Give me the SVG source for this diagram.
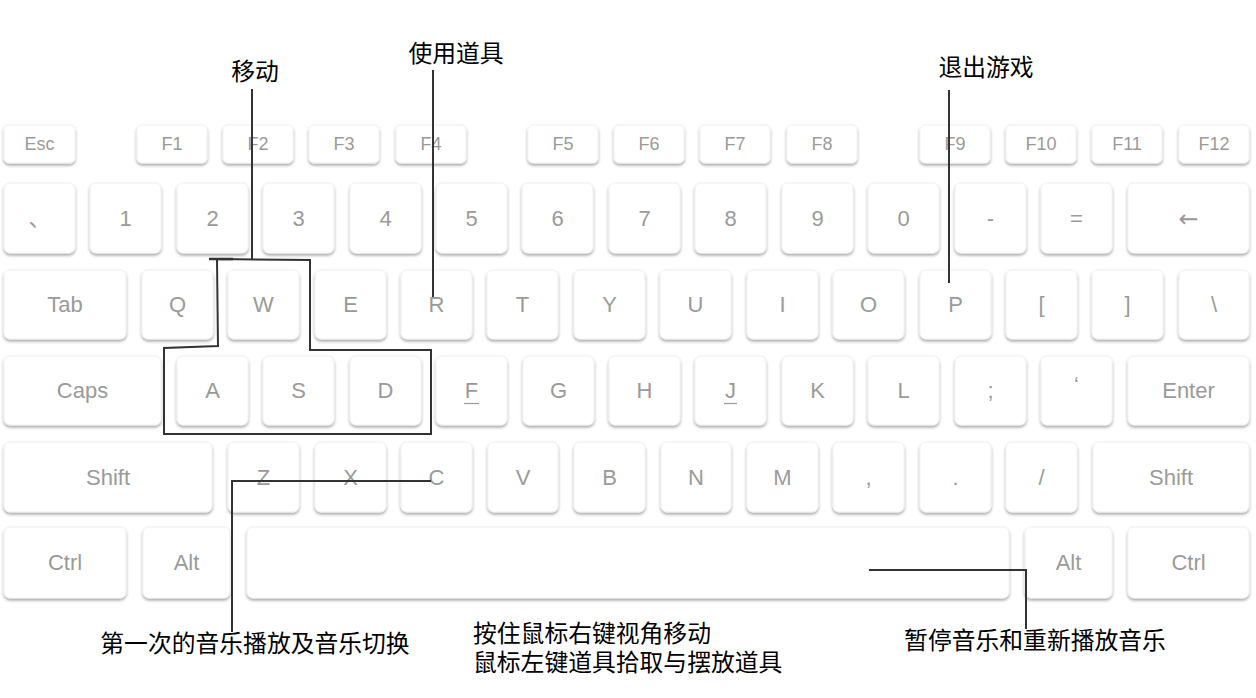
<svg xmlns="http://www.w3.org/2000/svg" width="1256" height="698" viewBox="0 0 1256 698">
<defs>
<filter id="sh" x="-10%" y="-20%" width="120%" height="150%">
<feDropShadow dx="0" dy="2" stdDeviation="1.4" flood-color="#000" flood-opacity="0.35"/>
</filter>
</defs>
<style>
.k{fill:#fff;stroke:#f0f0f0;stroke-width:1;filter:url(#sh)}
.t{font-family:"Liberation Sans",Arial,"Noto Sans CJK SC",sans-serif;font-size:22px;fill:#9a9a9a;text-anchor:middle}
.f{font-size:18px}
.c{stroke:#333;stroke-width:2;fill:none}
.a{font-family:"Liberation Sans","Noto Sans CJK SC","Noto Sans CJK TC",sans-serif;font-size:23.8px;fill:#000}
</style>
<rect width="1256" height="698" fill="#fff"/>
<g id="keys">
<g id="row-f">
<rect class="k" x="4" y="125" width="71" height="38" rx="5"/><text class="t f" x="39.5" y="150">Esc</text>
<rect class="k" x="137" y="125" width="70" height="38" rx="5"/><text class="t f" x="172" y="150">F1</text>
<rect class="k" x="223" y="125" width="70" height="38" rx="5"/><text class="t f" x="258" y="150">F2</text>
<rect class="k" x="309" y="125" width="70" height="38" rx="5"/><text class="t f" x="344" y="150">F3</text>
<rect class="k" x="396" y="125" width="70" height="38" rx="5"/><text class="t f" x="431" y="150">F4</text>
<rect class="k" x="528" y="125" width="70" height="38" rx="5"/><text class="t f" x="563" y="150">F5</text>
<rect class="k" x="614" y="125" width="70" height="38" rx="5"/><text class="t f" x="649" y="150">F6</text>
<rect class="k" x="700" y="125" width="70" height="38" rx="5"/><text class="t f" x="735" y="150">F7</text>
<rect class="k" x="787" y="125" width="70" height="38" rx="5"/><text class="t f" x="822" y="150">F8</text>
<rect class="k" x="920" y="125" width="70" height="38" rx="5"/><text class="t f" x="955" y="150">F9</text>
<rect class="k" x="1006" y="125" width="70" height="38" rx="5"/><text class="t f" x="1041" y="150">F10</text>
<rect class="k" x="1092" y="125" width="70" height="38" rx="5"/><text class="t f" x="1127" y="150">F11</text>
<rect class="k" x="1179" y="125" width="70" height="38" rx="5"/><text class="t f" x="1214" y="150">F12</text>
</g>
<g id="row-num">
<rect class="k" x="4" y="183" width="71" height="70" rx="6"/><text class="t" x="39.5" y="226">、</text>
<rect class="k" x="90" y="183" width="71" height="70" rx="6"/><text class="t" x="125.5" y="226">1</text>
<rect class="k" x="177" y="183" width="71" height="70" rx="6"/><text class="t" x="212.5" y="226">2</text>
<rect class="k" x="263" y="183" width="71" height="70" rx="6"/><text class="t" x="298.5" y="226">3</text>
<rect class="k" x="350" y="183" width="71" height="70" rx="6"/><text class="t" x="385.5" y="226">4</text>
<rect class="k" x="436" y="183" width="71" height="70" rx="6"/><text class="t" x="471.5" y="226">5</text>
<rect class="k" x="522" y="183" width="71" height="70" rx="6"/><text class="t" x="557.5" y="226">6</text>
<rect class="k" x="609" y="183" width="71" height="70" rx="6"/><text class="t" x="644.5" y="226">7</text>
<rect class="k" x="695" y="183" width="71" height="70" rx="6"/><text class="t" x="730.5" y="226">8</text>
<rect class="k" x="782" y="183" width="71" height="70" rx="6"/><text class="t" x="817.5" y="226">9</text>
<rect class="k" x="868" y="183" width="71" height="70" rx="6"/><text class="t" x="903.5" y="226">0</text>
<rect class="k" x="955" y="183" width="71" height="70" rx="6"/><text class="t" x="990.5" y="226">-</text>
<rect class="k" x="1041" y="183" width="71" height="70" rx="6"/><text class="t" x="1076.5" y="226">=</text>
<rect class="k" x="1128" y="183" width="121" height="70" rx="6"/><text class="t" x="1188.5" y="227" style="font-family:'DejaVu Sans',sans-serif;font-size:24px">←</text>
</g>
<g id="row-q">
<rect class="k" x="4" y="270" width="122" height="69" rx="6"/><text class="t" x="65" y="312">Tab</text>
<rect class="k" x="142" y="270" width="71" height="69" rx="6"/><text class="t" x="177.5" y="312">Q</text>
<rect class="k" x="228" y="270" width="71" height="69" rx="6"/><text class="t" x="263.5" y="312">W</text>
<rect class="k" x="315" y="270" width="71" height="69" rx="6"/><text class="t" x="350.5" y="312">E</text>
<rect class="k" x="401" y="270" width="71" height="69" rx="6"/><text class="t" x="436.5" y="312">R</text>
<rect class="k" x="487" y="270" width="71" height="69" rx="6"/><text class="t" x="522.5" y="312">T</text>
<rect class="k" x="574" y="270" width="71" height="69" rx="6"/><text class="t" x="609.5" y="312">Y</text>
<rect class="k" x="660" y="270" width="71" height="69" rx="6"/><text class="t" x="695.5" y="312">U</text>
<rect class="k" x="747" y="270" width="71" height="69" rx="6"/><text class="t" x="782.5" y="312">I</text>
<rect class="k" x="833" y="270" width="71" height="69" rx="6"/><text class="t" x="868.5" y="312">O</text>
<rect class="k" x="920" y="270" width="71" height="69" rx="6"/><text class="t" x="955.5" y="312">P</text>
<rect class="k" x="1006" y="270" width="71" height="69" rx="6"/><text class="t" x="1041.5" y="312">[</text>
<rect class="k" x="1092" y="270" width="71" height="69" rx="6"/><text class="t" x="1127.5" y="312">]</text>
<rect class="k" x="1179" y="270" width="70" height="69" rx="6"/><text class="t" x="1214" y="312">\</text>
</g>
<g id="row-a">
<rect class="k" x="4" y="356" width="157" height="69" rx="6"/><text class="t" x="82.5" y="398">Caps</text>
<rect class="k" x="177" y="356" width="71" height="69" rx="6"/><text class="t" x="212.5" y="398">A</text>
<rect class="k" x="263" y="356" width="71" height="69" rx="6"/><text class="t" x="298.5" y="398">S</text>
<rect class="k" x="350" y="356" width="71" height="69" rx="6"/><text class="t" x="385.5" y="398">D</text>
<rect class="k" x="436" y="356" width="71" height="69" rx="6"/><text class="t" x="471.5" y="398">F</text>
<line x1="464" y1="403.5" x2="479" y2="403.5" stroke="#9a9a9a" stroke-width="1.2"/>
<rect class="k" x="523" y="356" width="71" height="69" rx="6"/><text class="t" x="558.5" y="398">G</text>
<rect class="k" x="609" y="356" width="71" height="69" rx="6"/><text class="t" x="644.5" y="398">H</text>
<rect class="k" x="695" y="356" width="71" height="69" rx="6"/><text class="t" x="730.5" y="398">J</text>
<line x1="724" y1="403.5" x2="737" y2="403.5" stroke="#9a9a9a" stroke-width="1.2"/>
<rect class="k" x="782" y="356" width="71" height="69" rx="6"/><text class="t" x="817.5" y="398">K</text>
<rect class="k" x="868" y="356" width="71" height="69" rx="6"/><text class="t" x="903.5" y="398">L</text>
<rect class="k" x="955" y="356" width="71" height="69" rx="6"/><text class="t" x="990.5" y="398">;</text>
<rect class="k" x="1041" y="356" width="71" height="69" rx="6"/><text class="t" x="1076.5" y="392" font-size="16">‘</text>
<rect class="k" x="1128" y="356" width="121" height="69" rx="6"/><text class="t" x="1188.5" y="398">Enter</text>
</g>
<g id="row-z">
<rect class="k" x="4" y="442" width="208" height="70" rx="6"/><text class="t" x="108" y="485">Shift</text>
<rect class="k" x="228" y="442" width="71" height="70" rx="6"/><text class="t" x="263.5" y="485">Z</text>
<rect class="k" x="315" y="442" width="71" height="70" rx="6"/><text class="t" x="350.5" y="485">X</text>
<rect class="k" x="401" y="442" width="71" height="70" rx="6"/><text class="t" x="436.5" y="485">C</text>
<rect class="k" x="488" y="442" width="70" height="70" rx="6"/><text class="t" x="523" y="485">V</text>
<rect class="k" x="574" y="442" width="71" height="70" rx="6"/><text class="t" x="609.5" y="485">B</text>
<rect class="k" x="661" y="442" width="70" height="70" rx="6"/><text class="t" x="696" y="485">N</text>
<rect class="k" x="747" y="442" width="71" height="70" rx="6"/><text class="t" x="782.5" y="485">M</text>
<rect class="k" x="833" y="442" width="71" height="70" rx="6"/><text class="t" x="868.5" y="485">,</text>
<rect class="k" x="920" y="442" width="71" height="70" rx="6"/><text class="t" x="955.5" y="485">.</text>
<rect class="k" x="1006" y="442" width="71" height="70" rx="6"/><text class="t" x="1041.5" y="485">/</text>
<rect class="k" x="1093" y="442" width="156" height="70" rx="6"/><text class="t" x="1171" y="485">Shift</text>
</g>
<g id="row-space">
<rect class="k" x="4" y="527" width="122" height="71" rx="6"/><text class="t" x="65" y="570">Ctrl</text>
<rect class="k" x="143" y="527" width="87" height="71" rx="6"/><text class="t" x="186.5" y="570">Alt</text>
<rect class="k" x="247" y="527" width="762" height="71" rx="6"/>
<rect class="k" x="1025" y="527" width="87" height="71" rx="6"/><text class="t" x="1068.5" y="570">Alt</text>
<rect class="k" x="1128" y="527" width="121" height="71" rx="6"/><text class="t" x="1188.5" y="570">Ctrl</text>
</g>
</g>
<g id="connectors">
<line class="c" x1="252" y1="89" x2="252" y2="260"/>
<path class="c" d="M217 259 L310 260 L310 350 L431 350 L431 434 L164 434 L164 348 L218 346 Z"/>
<line x1="209" y1="259" x2="233" y2="259" stroke="#333" stroke-width="2.5"/>
<line class="c" x1="433" y1="70" x2="433" y2="297"/>
<line class="c" x1="949" y1="90" x2="949" y2="283"/>
<polyline class="c" points="431,481 232,481 232,632"/>
<polyline class="c" points="869,570 1026,570 1026,629"/>
</g>
<g id="labels">
<text class="a" x="255" y="80" text-anchor="middle">移动</text>
<text class="a" x="456" y="62" text-anchor="middle">使用道具</text>
<text class="a" x="986" y="76" text-anchor="middle">退出游戏</text>
<text class="a" x="255" y="652" text-anchor="middle">第一次的音乐播放及音乐切换</text>
<text class="a" x="473" y="642"><tspan x="473" y="642">按住鼠标右键视角移动</tspan><tspan x="473" y="671">鼠标左键道具拾取与摆放道具</tspan></text>
<text class="a" x="1035" y="649" text-anchor="middle">暂停音乐和重新播放音乐</text>
</g>
</svg>
